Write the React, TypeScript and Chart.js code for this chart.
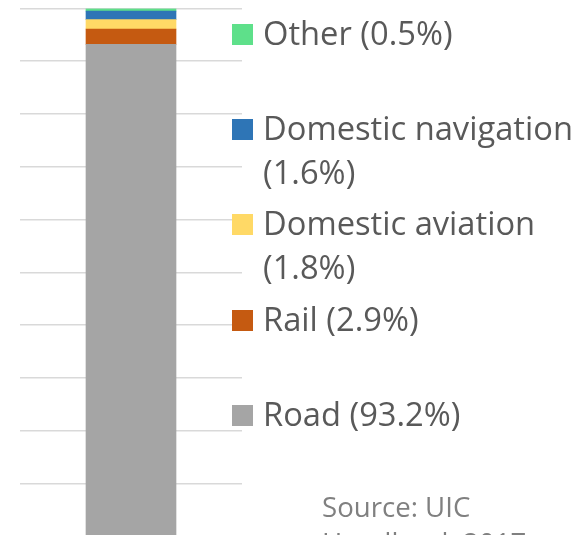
import React, { useEffect, useRef } from "react";
import { Chart, registerables } from "chart.js";

Chart.register(...registerables);

// Bottom-to-top stacking order
const categories = ["Transport"];
const seriesLabels = ["Road", "Rail", "Domestic aviation", "Domestic navigation", "Other"];
const seriesValues = [93.2, 2.9, 1.8, 1.6, 0.5];
const seriesColors = ["#A5A5A5", "#C55A11", "#FFD966", "#2E75B6", "#5EE08A"];
const axisMin = 0;
const axisMax = 100;
const axisStep = 10;
const sourceLines = ["Source: UIC", "Handbook 2017"];

// legend layout (top to bottom order)
const legendOrder = [4, 3, 2, 1, 0];
const legendBaselines = [45.7, 140.5, 235.7, 331.7, 426.7];

export default function App() {
  const canvasRef = useRef<HTMLCanvasElement | null>(null);

  useEffect(() => {
    document.body.style.margin = "0";
    const ctx = canvasRef.current;
    if (!ctx) return;
    const chart = new Chart(ctx, {
      type: "bar",
      data: {
        labels: categories,
        datasets: seriesLabels.map((label, i) => ({
          label,
          data: [seriesValues[i]],
          backgroundColor: seriesColors[i],
          borderWidth: 0,
          barThickness: 90,
        })),
      },
      options: {
        animation: false,
        responsive: false,
        layout: { padding: { left: 20, right: 331, top: 8.5, bottom: 4 } },
        plugins: { legend: { display: false }, tooltip: { enabled: false } },
        scales: {
          x: { stacked: true, display: false },
          y: {
            stacked: true,
            min: axisMin,
            max: axisMax,
            ticks: { display: false, stepSize: axisStep },
            grid: { color: "#D9D9D9", lineWidth: 1.5, drawTicks: false },
            border: { display: false },
          },
        },
      },
    });
    return () => chart.destroy();
  }, []);

  const fs = 32.7;
  const lh = 44.5;
  const baseOff = (lh - 1.362 * fs) / 2 + 1.069 * fs;

  const textStyle: React.CSSProperties = {
    position: "absolute",
    left: 263,
    width: 320,
    fontFamily: "'Open Sans', sans-serif",
    fontSize: fs,
    lineHeight: `${lh}px`,
    color: "#595959",
  };

  return (
    <div
      style={{
        position: "fixed",
        left: 0,
        top: 0,
        width: 573,
        height: 535,
        overflow: "hidden",
        background: "#ffffff",
      }}
    >
      <canvas ref={canvasRef} width={573} height={540} style={{ position: "absolute", left: 0, top: 0 }} />
      {legendOrder.map((idx, k) => (
        <React.Fragment key={seriesLabels[idx]}>
          <div
            style={{
              position: "absolute",
              left: 232,
              top: legendBaselines[k] - 21.5,
              width: 21,
              height: 21,
              background: seriesColors[idx],
            }}
          />
          <div style={{ ...textStyle, top: legendBaselines[k] - baseOff }}>
            {`${seriesLabels[idx]} (${seriesValues[idx]}%)`}
          </div>
        </React.Fragment>
      ))}
      <div
        style={{
          position: "absolute",
          left: 322,
          top: 488,
          fontFamily: "'Open Sans', sans-serif",
          fontSize: 27.6,
          lineHeight: "36px",
          color: "#808080",
          whiteSpace: "nowrap",
        }}
      >
        {sourceLines.map((l) => (
          <div key={l}>{l}</div>
        ))}
      </div>
    </div>
  );
}
